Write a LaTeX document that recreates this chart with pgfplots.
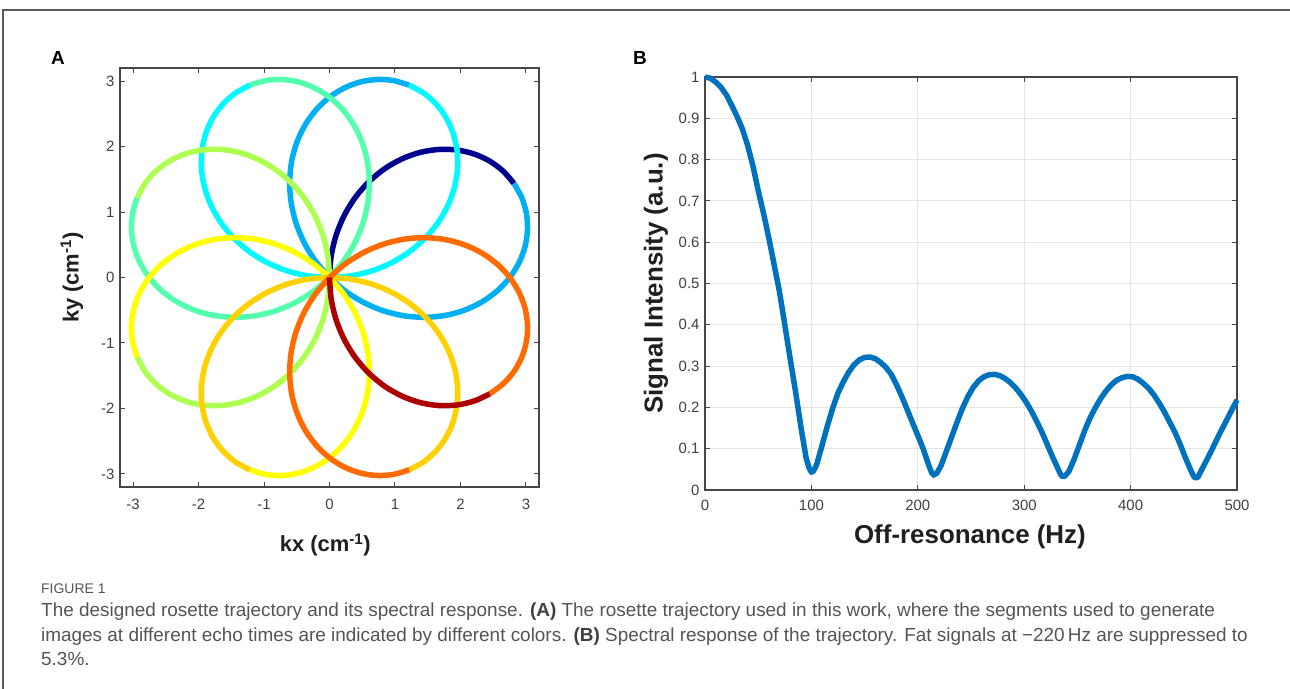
\documentclass[border=0pt]{standalone}
\usepackage{fontspec}
\setmainfont{Liberation Sans}
\usepackage{pgfplots}
\usepackage{pgfplotstable}
\pgfplotsset{compat=1.18}

\definecolor{cNavy}{rgb}{0,0,0.56}
\definecolor{cBlue}{rgb}{0,0.69,0.95}
\definecolor{cCyan}{rgb}{0,0.98,1}
\definecolor{cAqua}{rgb}{0.33,1,0.68}
\definecolor{cYG}{rgb}{0.68,1,0.32}
\definecolor{cYellow}{rgb}{1,1,0}
\definecolor{cGold}{rgb}{1,0.82,0}
\definecolor{cOrange}{rgb}{1,0.42,0}
\definecolor{cRed}{rgb}{0.68,0,0}
\definecolor{mblue}{rgb}{0,0.447,0.741}
\definecolor{capgray}{rgb}{0.33,0.33,0.33}

% one rosette petal: phi (deg) and radius (cm^-1)
\pgfplotstableread{
phi r
0 0
6 0.3324
12 0.6612
18 0.9827
24 1.2934
30 1.5900
36 1.8692
42 2.1278
48 2.3632
54 2.5727
60 2.7540
66 2.9051
72 3.0244
78 3.1105
84 3.1626
90 3.1800
96 3.1626
102 3.1105
108 3.0244
114 2.9051
120 2.7540
126 2.5727
132 2.3632
138 2.1278
144 1.8692
150 1.5900
156 1.2934
162 0.9827
168 0.6612
174 0.3324
180 0
}\petal

\pgfplotstableread{
x y
0 1.000
5 0.997
10 0.988
15 0.975
20 0.957
25 0.932
30 0.905
35 0.875
40 0.835
45 0.785
50 0.725
55 0.670
60 0.610
65 0.545
70 0.480
75 0.400
80 0.318
85 0.240
90 0.155
95 0.078
98 0.052
100 0.043
102 0.046
105 0.062
110 0.108
115 0.155
120 0.198
125 0.235
130 0.262
135 0.285
140 0.303
145 0.315
150 0.321
155 0.322
160 0.318
165 0.309
170 0.297
175 0.280
180 0.255
185 0.226
190 0.195
195 0.163
200 0.132
205 0.100
210 0.062
213 0.042
215 0.036
218 0.041
222 0.060
227 0.095
232 0.130
237 0.165
242 0.198
247 0.226
252 0.248
257 0.264
262 0.274
267 0.279
272 0.280
277 0.277
282 0.270
287 0.260
292 0.247
297 0.231
302 0.212
307 0.190
312 0.165
317 0.138
322 0.108
327 0.078
332 0.050
335 0.034
338 0.033
342 0.045
347 0.075
352 0.110
357 0.145
362 0.175
367 0.200
372 0.222
377 0.240
382 0.255
387 0.266
392 0.272
397 0.275
402 0.274
407 0.268
412 0.258
417 0.246
422 0.230
427 0.210
432 0.188
437 0.163
442 0.138
447 0.108
452 0.075
457 0.045
460 0.030
463 0.030
466 0.045
470 0.065
475 0.090
480 0.117
485 0.143
490 0.168
495 0.193
500 0.218
}\spec

\newcommand{\seg}[4]{%
  \addplot[draw=#2, line width=5.5bp, line join=round, smooth, tension=0.5,
           restrict expr to domain={\coordindex}{#3:#4}]
    table[x expr={\thisrow{r}*cos(#1-0.75*\thisrow{phi})},
          y expr={\thisrow{r}*sin(#1-0.75*\thisrow{phi})}] {\petal};}

\pgfplotsset{
  mystyle/.style={
    scale only axis,
    anchor=south west,
    tick align=inside,
    major tick length=5bp,
    axis line style={draw=black!72, line width=1.3bp},
    tick style={draw=black!72, line width=1bp},
    tick label style={font=\fontsize{15}{15}\selectfont, text=black!75},
    yticklabel style={xshift=-2bp},
    /pgf/number format/assume math mode=true,
  }
}

\begin{document}
\begin{tikzpicture}[x=1bp,y=1bp]
\path[use as bounding box] (0,0) rectangle (1290,689);
\draw[black!65, line width=1.5bp] (3,0) -- (3,679) -- (1292,679);

\node[font=\fontsize{19}{19}\selectfont\bfseries] at (58,631) {A};
\node[font=\fontsize{19}{19}\selectfont\bfseries] at (640,631) {B};

% Panel A
\begin{axis}[mystyle,
  at={(120bp,202bp)}, width=419bp, height=419bp,
  xmin=-3.2, xmax=3.2, ymin=-3.2, ymax=3.2,
  xtick={-3,-2,-1,0,1,2,3}, ytick={-3,-2,-1,0,1,2,3},
  xticklabel style={yshift=-9bp},
  label style={font=\fontsize{22}{22}\selectfont\bfseries, text=black!88},
  xlabel={kx (cm\textsuperscript{-1})},
  ylabel={ky (cm\textsuperscript{-1})},
  xlabel style={at={(axis description cs:0.49,-0.138)}, anchor=center},
  ylabel style={at={(axis description cs:-0.115,0.5)}, anchor=center},
  clip=false,
]
\seg{90}{cNavy}{0}{14}
\seg{90}{cBlue}{14}{30}
\seg{135}{cBlue}{0}{15}
\seg{135}{cCyan}{15}{30}
\seg{180}{cCyan}{0}{15}
\seg{180}{cAqua}{15}{30}
\seg{225}{cAqua}{0}{15}
\seg{225}{cYG}{15}{30}
\seg{270}{cYG}{0}{15}
\seg{270}{cYellow}{15}{30}
\seg{315}{cYellow}{0}{15}
\seg{315}{cGold}{15}{30}
\seg{360}{cGold}{0}{15}
\seg{360}{cOrange}{15}{30}
\seg{405}{cOrange}{0}{18}
\seg{405}{cRed}{18}{30}
\end{axis}

% Panel B
\begin{axis}[mystyle,
  at={(705bp,199bp)}, width=532bp, height=413bp,
  xmin=0, xmax=500, ymin=0, ymax=1,
  xtick={0,100,200,300,400,500},
  ytick={0,0.1,0.2,0.3,0.4,0.5,0.6,0.7,0.8,0.9,1},
  xticklabel style={yshift=-7bp},
  grid=major, major grid style={draw=black!10, line width=1bp},
  label style={font=\fontsize{26}{26}\selectfont\bfseries, text=black!88},
  xlabel={Off-resonance (Hz)},
  ylabel={Signal Intensity (a.u.)},
  xlabel style={at={(axis description cs:0.498,-0.114)}, anchor=center},
  ylabel style={at={(axis description cs:-0.092,0.5)}, anchor=center},
  clip=false,
]
\addplot[draw=mblue, line width=5.5bp, line join=round] table {\spec};
\end{axis}

% Caption
\node[anchor=base west, inner sep=0pt, font=\fontsize{14}{14}\selectfont, text=capgray] at (41,95) {FIGURE 1};
\node[anchor=base west, inner sep=0pt, font=\fontsize{19}{19}\selectfont, text=capgray] at (41,72)
  {The designed rosette trajectory and its spectral response. {\bfseries\color{black!75}(A)} The rosette trajectory used in this work, where the segments used to generate};
\node[anchor=base west, inner sep=0pt, font=\fontsize{19}{19}\selectfont, text=capgray] at (41,47)
  {images at different echo times are indicated by different colors. {\bfseries\color{black!75}(B)} Spectral response of the trajectory. Fat signals at −220\,Hz are suppressed to};
\node[anchor=base west, inner sep=0pt, font=\fontsize{19}{19}\selectfont, text=capgray] at (41,23) {5.3\%.};
\end{tikzpicture}
\end{document}
